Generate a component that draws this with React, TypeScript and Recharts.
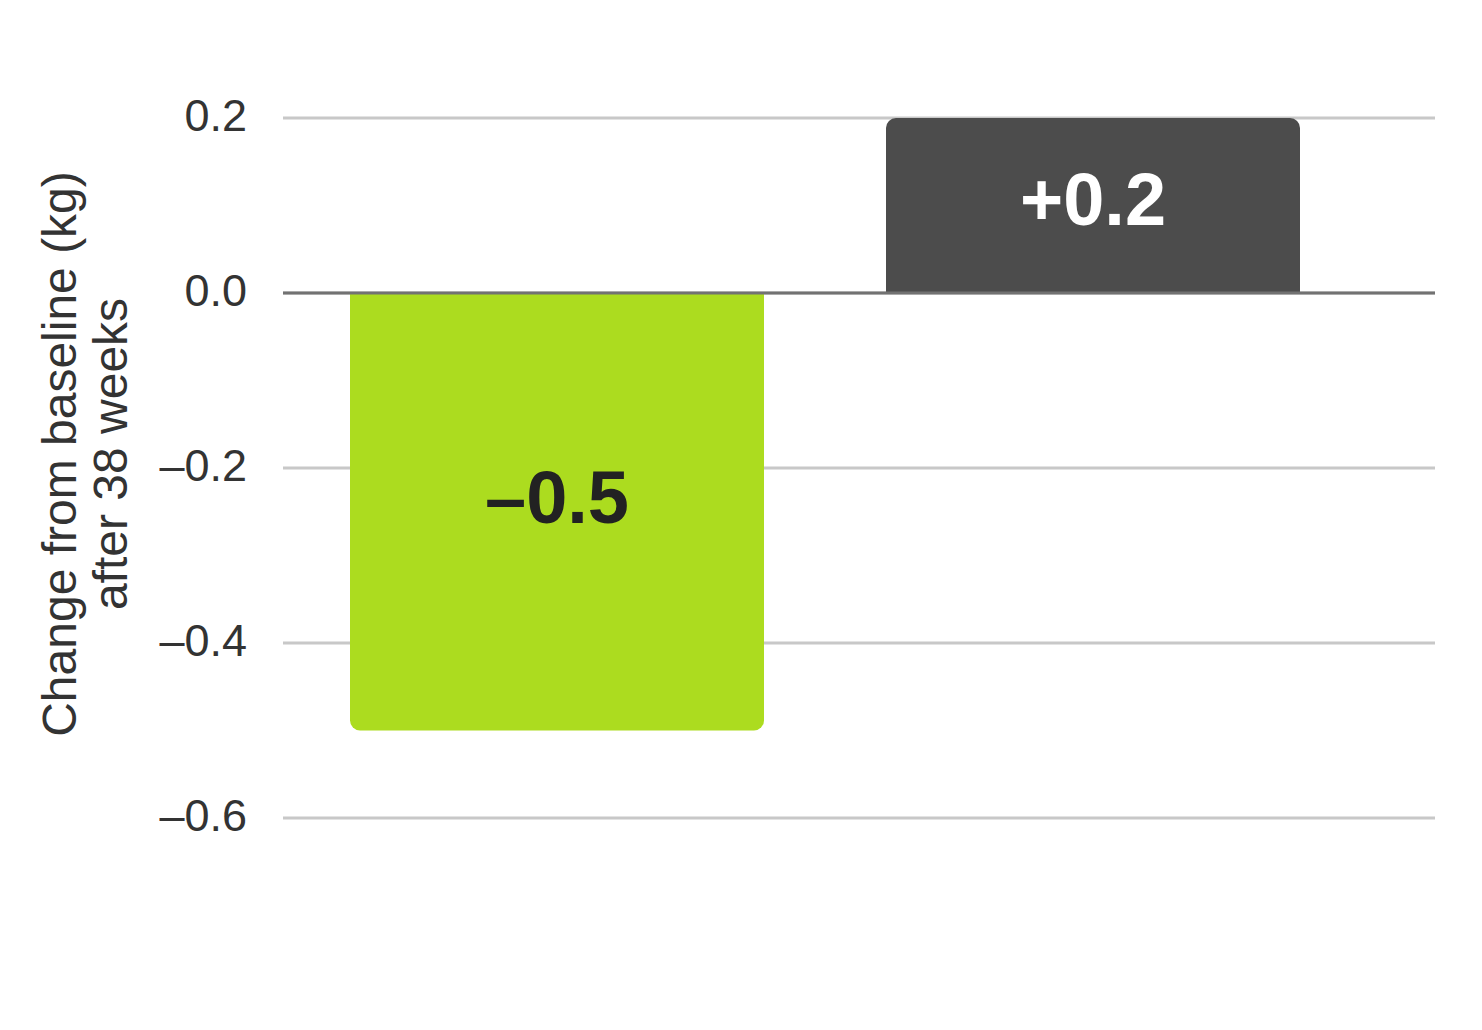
import React from "react";
import {
  BarChart,
  Bar,
  XAxis,
  YAxis,
  CartesianGrid,
  ReferenceLine,
  Cell,
  LabelList,
} from "recharts";

const categories = ["Treatment", "Control"];
const changeValues = [-0.5, 0.2];
const barColors = ["#acdc1f", "#4c4c4c"];
const labelColors = ["#222222", "#ffffff"];
const yTicks = [0.2, 0, -0.2, -0.4, -0.6];
const yTitleLines = ["Change from baseline (kg)", "after 38 weeks"];

const data = categories.map((c, i) => ({ name: c, value: changeValues[i] }));

const FONT = "'Liberation Sans', Arial, Helvetica, sans-serif";

const fmtTick = (v: number) =>
  v === 0 ? "0.0" : (v < 0 ? "\u2013" : "") + Math.abs(v).toFixed(1);

const fmtLabel = (v: number) =>
  (v < 0 ? "\u2013" : "+") + Math.abs(v).toFixed(1);

const BarValueLabel = (props: any) => {
  const { x, y, width, height, value, index } = props;
  const cx = x + width / 2;
  const cy = y + height / 2 + (value < 0 ? -14 : -6);
  return (
    <text
      x={cx}
      y={cy}
      textAnchor="middle"
      dominantBaseline="central"
      fontFamily={FONT}
      fontWeight="bold"
      fontSize={74}
      fill={labelColors[index]}
    >
      {fmtLabel(value)}
    </text>
  );
};

const YTickLabel = (props: any) => {
  const { x, y, payload } = props;
  return (
    <text
      x={x}
      y={y - 3}
      textAnchor="end"
      dominantBaseline="central"
      fontFamily={FONT}
      fontSize={45}
      fill="#333333"
    >
      {fmtTick(payload.value)}
    </text>
  );
};

const YTitle = (props: any) => {
  const vb = props.viewBox || {};
  const cy = (vb.y ?? 0) + (vb.height ?? 0) / 2 - 14;
  return (
    <g>
      <text
        transform={`translate(68, ${cy}) rotate(-90)`}
        textAnchor="middle"
        fontFamily={FONT}
        fontSize={48}
        fill="#333333"
      >
        {yTitleLines[0]}
      </text>
      <text
        transform={`translate(119, ${cy}) rotate(-90)`}
        textAnchor="middle"
        fontFamily={FONT}
        fontSize={48}
        fill="#333333"
      >
        {yTitleLines[1]}
      </text>
    </g>
  );
};

export default function App() {
  return (
    <div style={{ width: 1466, height: 1014, background: "#ffffff" }}>
      <BarChart
        width={1466}
        height={1014}
        data={data}
        margin={{ top: 110, right: 39, bottom: 204, left: 0 }}
      >
        <CartesianGrid
          horizontal={true}
          vertical={false}
          stroke="#c8c8c8"
          strokeWidth={3}
        />
        <XAxis dataKey="name" hide padding={{ left: 6, right: 74 }} />
        <YAxis
          width={275}
          domain={[-0.6, 0.2]}
          ticks={yTicks}
          allowDataOverflow
          axisLine={false}
          tickLine={false}
          tickSize={0}
          tickMargin={36}
          tick={<YTickLabel />}
          label={{ content: (p: any) => <YTitle {...p} /> }}
        />
        <Bar
          dataKey="value"
          barSize={414}
          radius={[10, 10, 0, 0]}
          isAnimationActive={false}
        >
          {data.map((d, i) => (
            <Cell key={d.name} fill={barColors[i]} />
          ))}
          <LabelList dataKey="value" content={<BarValueLabel />} />
        </Bar>
        <ReferenceLine y={0} stroke="#727272" strokeWidth={3} />
      </BarChart>
    </div>
  );
}
